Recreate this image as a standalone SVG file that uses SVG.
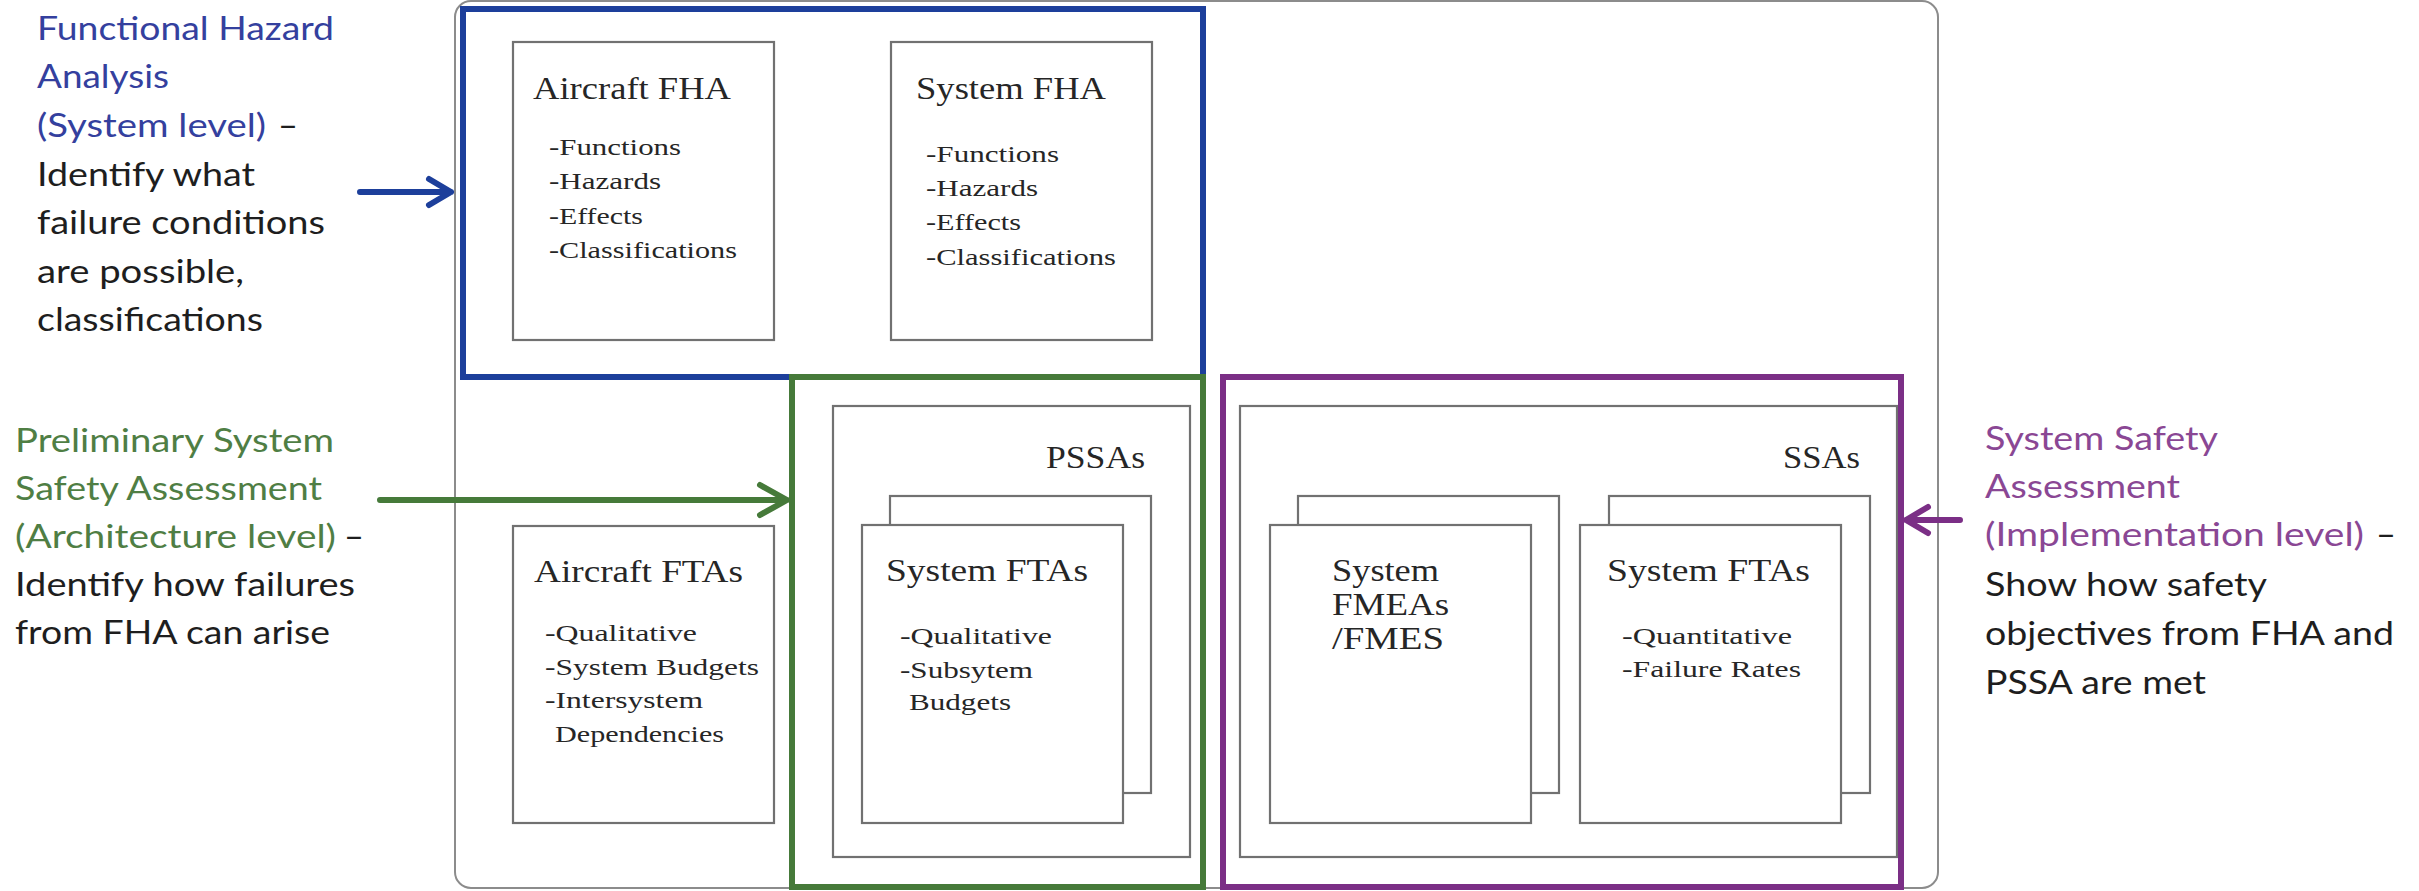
<svg xmlns="http://www.w3.org/2000/svg" width="2419" height="891" viewBox="0 0 2419 891">
  <style>
    .frame { fill: #ffffff; stroke: #8c8c8c; stroke-width: 2; }
    .box { fill: #ffffff; stroke: #717171; stroke-width: 2.2; }
    .phase { fill: none; stroke-width: 6; stroke-linejoin: miter; }
    .fha { stroke: #1d3f9b; }
    .pssa { stroke: #467a3a; }
    .ssa { stroke: #7b2f86; }
    .title { font-family: "Liberation Serif", "DejaVu Serif", serif; font-size: 32px; fill: #262626; }
    .item { font-family: "Liberation Serif", "DejaVu Serif", serif; font-size: 23px; fill: #262626; }
    .note { font-family: Lato, "Open Sans", sans-serif; font-size: 32px; fill: #1e1e1e; }
    .blue { fill: #34409e; }
    .green { fill: #4f7e44; }
    .purple { fill: #8a4794; }
    .arrow { fill: none; stroke-width: 6; stroke-linecap: round; stroke-linejoin: round; }
  </style>

  <!-- outer process frame -->
  <rect id="frame" class="frame" x="455" y="1" width="1483" height="887" rx="16" ry="16"/>

  <!-- FHA phase -->
  <g id="aircraft-fha">
    <rect class="box" x="513" y="42" width="261" height="298"/>
    <text class="title" x="533" y="99" textLength="198" lengthAdjust="spacingAndGlyphs">Aircraft FHA</text>
    <text class="item" x="549" y="155" textLength="132" lengthAdjust="spacingAndGlyphs">-Functions</text>
    <text class="item" x="549" y="189" textLength="112" lengthAdjust="spacingAndGlyphs">-Hazards</text>
    <text class="item" x="549" y="224" textLength="94" lengthAdjust="spacingAndGlyphs">-Effects</text>
    <text class="item" x="549" y="258" textLength="188" lengthAdjust="spacingAndGlyphs">-Classifications</text>
  </g>
  <g id="system-fha">
    <rect class="box" x="891" y="42" width="261" height="298"/>
    <text class="title" x="916" y="99" textLength="190" lengthAdjust="spacingAndGlyphs">System FHA</text>
    <text class="item" x="926" y="162" textLength="133" lengthAdjust="spacingAndGlyphs">-Functions</text>
    <text class="item" x="926" y="196" textLength="112" lengthAdjust="spacingAndGlyphs">-Hazards</text>
    <text class="item" x="926" y="230" textLength="95" lengthAdjust="spacingAndGlyphs">-Effects</text>
    <text class="item" x="926" y="265" textLength="190" lengthAdjust="spacingAndGlyphs">-Classifications</text>
  </g>

  <!-- Aircraft fault trees -->
  <g id="aircraft-ftas">
    <rect class="box" x="513" y="526" width="261" height="297"/>
    <text class="title" x="534" y="582" textLength="209" lengthAdjust="spacingAndGlyphs">Aircraft FTAs</text>
    <text class="item" x="545" y="641" textLength="152" lengthAdjust="spacingAndGlyphs">-Qualitative</text>
    <text class="item" x="545" y="675" textLength="214" lengthAdjust="spacingAndGlyphs">-System Budgets</text>
    <text class="item" x="545" y="708" textLength="158" lengthAdjust="spacingAndGlyphs">-Intersystem</text>
    <text class="item" x="555" y="742" textLength="169" lengthAdjust="spacingAndGlyphs">Dependencies</text>
  </g>

  <!-- PSSA container with stacked system FTAs -->
  <g id="pssas">
    <rect class="box" x="833" y="406" width="357" height="451"/>
    <text class="title" x="1046" y="468" textLength="99" lengthAdjust="spacingAndGlyphs">PSSAs</text>
  </g>
  <g id="pssa-system-ftas">
    <rect class="box" x="890" y="496" width="261" height="297"/>
    <rect class="box" x="862" y="525" width="261" height="298"/>
    <text class="title" x="886" y="581" textLength="202" lengthAdjust="spacingAndGlyphs">System FTAs</text>
    <text class="item" x="900" y="644" textLength="152" lengthAdjust="spacingAndGlyphs">-Qualitative</text>
    <text class="item" x="900" y="678" textLength="133" lengthAdjust="spacingAndGlyphs">-Subsytem</text>
    <text class="item" x="909" y="710" textLength="102" lengthAdjust="spacingAndGlyphs">Budgets</text>
  </g>

  <!-- SSA container with stacked FMEAs and FTAs -->
  <g id="ssas">
    <rect class="box" x="1240" y="406" width="657" height="451"/>
    <text class="title" x="1783" y="468" textLength="77" lengthAdjust="spacingAndGlyphs">SSAs</text>
  </g>
  <g id="system-fmeas">
    <rect class="box" x="1298" y="496" width="261" height="297"/>
    <rect class="box" x="1270" y="525" width="261" height="298"/>
    <text class="title" x="1332" y="581" textLength="107" lengthAdjust="spacingAndGlyphs">System</text>
    <text class="title" x="1332" y="615" textLength="117" lengthAdjust="spacingAndGlyphs">FMEAs</text>
    <text class="title" x="1332" y="649" textLength="112" lengthAdjust="spacingAndGlyphs">/FMES</text>
  </g>
  <g id="ssa-system-ftas">
    <rect class="box" x="1609" y="496" width="261" height="297"/>
    <rect class="box" x="1580" y="525" width="261" height="298"/>
    <text class="title" x="1607" y="581" textLength="203" lengthAdjust="spacingAndGlyphs">System FTAs</text>
    <text class="item" x="1622" y="644" textLength="170" lengthAdjust="spacingAndGlyphs">-Quantitative</text>
    <text class="item" x="1622" y="677" textLength="179" lengthAdjust="spacingAndGlyphs">-Failure Rates</text>
  </g>

  <!-- phase outlines -->
  <g id="phase-fha"><rect class="phase fha" x="463" y="9" width="740" height="368"/></g>
  <g id="phase-pssa"><rect class="phase pssa" x="792" y="377" width="411" height="510"/></g>
  <g id="phase-ssa"><rect class="phase ssa" x="1223" y="377" width="678" height="510"/></g>

  <!-- side notes -->
  <g id="note-fha">
    <text class="note blue" x="37" y="40" textLength="297" lengthAdjust="spacingAndGlyphs">Functional Hazard</text>
    <text class="note blue" x="37" y="88" textLength="132" lengthAdjust="spacingAndGlyphs">Analysis</text>
    <text class="note blue" x="37" y="137" textLength="229" lengthAdjust="spacingAndGlyphs">(System level)</text>
    <text class="note" x="278" y="137" textLength="20" lengthAdjust="spacingAndGlyphs">–</text>
    <text class="note" x="37" y="186" textLength="218" lengthAdjust="spacingAndGlyphs">Identify what</text>
    <text class="note" x="37" y="234" textLength="288" lengthAdjust="spacingAndGlyphs">failure conditions</text>
    <text class="note" x="37" y="283" textLength="207" lengthAdjust="spacingAndGlyphs">are possible,</text>
    <text class="note" x="37" y="331" textLength="226" lengthAdjust="spacingAndGlyphs">classifications</text>
  </g>
  <g id="note-pssa">
    <text class="note green" x="15" y="452" textLength="319" lengthAdjust="spacingAndGlyphs">Preliminary System</text>
    <text class="note green" x="15" y="500" textLength="307" lengthAdjust="spacingAndGlyphs">Safety Assessment</text>
    <text class="note green" x="15" y="548" textLength="321" lengthAdjust="spacingAndGlyphs">(Architecture level)</text>
    <text class="note" x="344" y="548" textLength="20" lengthAdjust="spacingAndGlyphs">–</text>
    <text class="note" x="15" y="596" textLength="340" lengthAdjust="spacingAndGlyphs">Identify how failures</text>
    <text class="note" x="15" y="644" textLength="315" lengthAdjust="spacingAndGlyphs">from FHA can arise</text>
  </g>
  <g id="note-ssa">
    <text class="note purple" x="1985" y="450" textLength="233" lengthAdjust="spacingAndGlyphs">System Safety</text>
    <text class="note purple" x="1985" y="498" textLength="195" lengthAdjust="spacingAndGlyphs">Assessment</text>
    <text class="note purple" x="1985" y="546" textLength="379" lengthAdjust="spacingAndGlyphs">(Implementation level)</text>
    <text class="note" x="2376" y="546" textLength="20" lengthAdjust="spacingAndGlyphs">–</text>
    <text class="note" x="1985" y="596" textLength="282" lengthAdjust="spacingAndGlyphs">Show how safety</text>
    <text class="note" x="1985" y="645" textLength="409" lengthAdjust="spacingAndGlyphs">objectives from FHA and</text>
    <text class="note" x="1985" y="694" textLength="221" lengthAdjust="spacingAndGlyphs">PSSA are met</text>
  </g>

  <!-- connectors: notes pointing at their phases -->
  <g id="connectors">
    <path class="arrow fha" d="M360,192 H451 M429,179 L451,192 L429,205"/>
    <path class="arrow pssa" d="M380,500 H787 M760,485 L787,500 L760,515"/>
    <path class="arrow ssa" d="M1960,520 H1906 M1928,507 L1906,520 L1928,533"/>
  </g>
</svg>
